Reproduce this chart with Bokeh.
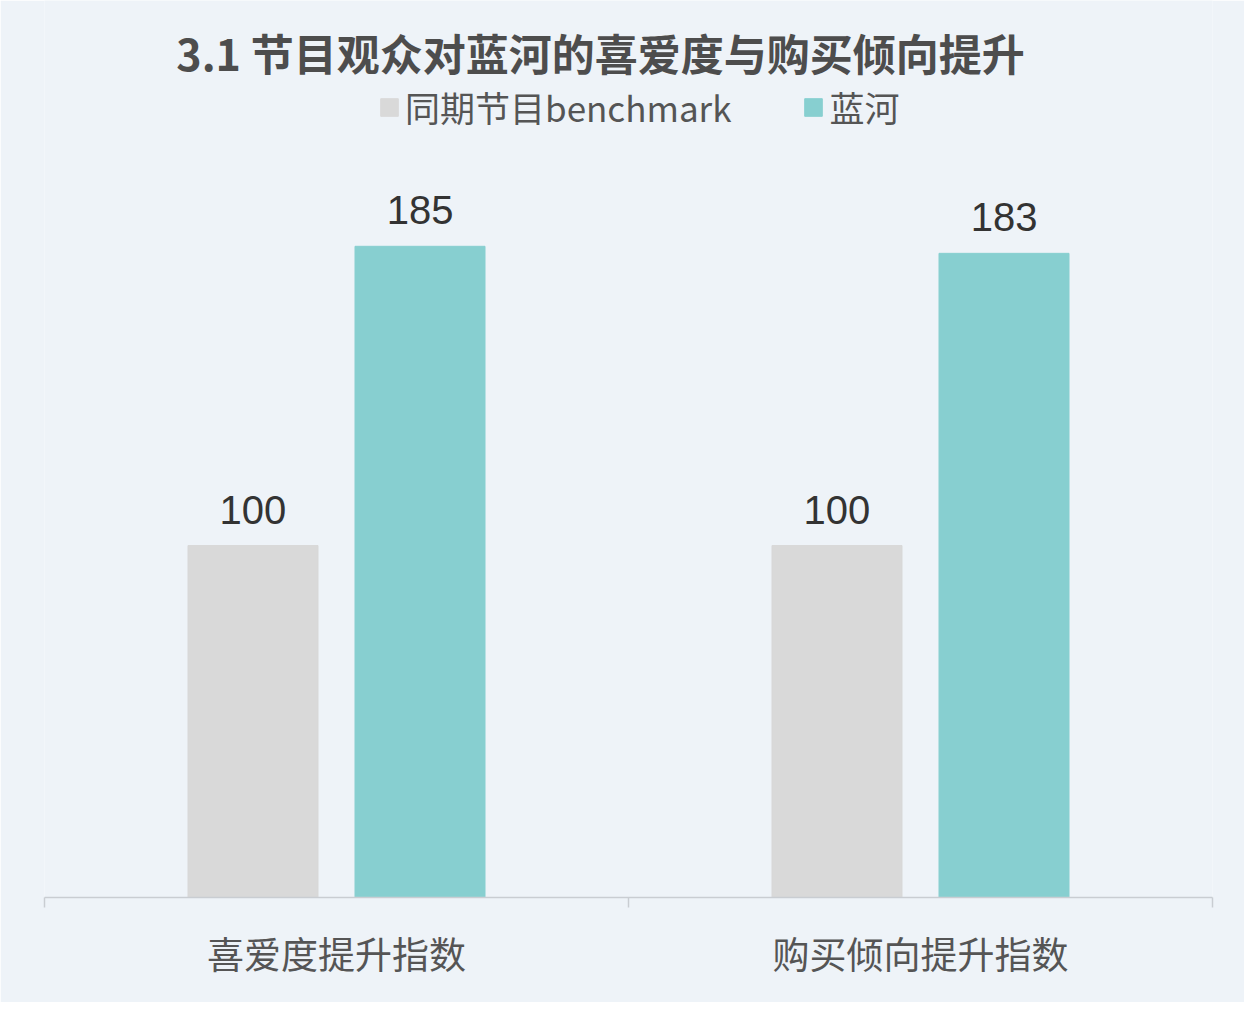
from bokeh.plotting import figure
from bokeh.models import (ColumnDataSource, LabelSet, Label, Legend, LegendItem,
                          Range1d, FixedTicker, LinearAxis)
from bokeh.core.properties import value
from bokeh.embed import file_html
from bokeh.resources import INLINE

categories = ["喜爱度提升指数", "购买倾向提升指数"]
series_names = ["同期节目benchmark", "蓝河"]
benchmark = [100, 100]
lanhe = [185, 183]
title_text = "3.1 节目观众对蓝河的喜爱度与购买倾向提升"

colors = ["#d9d9d9", "#87cfd0"]
bg = "#eef3f8"

centers = [i + 0.5 for i in range(len(categories))]
offset = 0.143
bar_w = 0.2226

src_b = ColumnDataSource(data=dict(x=[c - offset for c in centers], top=benchmark,
                                   txt=[str(v) for v in benchmark]))
src_l = ColumnDataSource(data=dict(x=[c + offset for c in centers], top=lanhe,
                                   txt=[str(v) for v in lanhe]))

p = figure(width=1244, height=1002, output_backend="svg", toolbar_location=None,
           x_range=Range1d(0, len(categories)), y_range=Range1d(0, 897 / 3.52),
           x_axis_type=None, y_axis_type=None,
           min_border_left=44, min_border_right=32, min_border_top=0,
           min_border_bottom=105)
p.background_fill_color = bg
p.border_fill_color = bg
p.outline_line_color = None
p.xgrid.visible = False
p.ygrid.visible = False

r_b = p.vbar(x="x", top="top", width=bar_w, source=src_b, color=colors[0])
r_l = p.vbar(x="x", top="top", width=bar_w, source=src_l, color=colors[1])

for s in (src_b, src_l):
    p.add_layout(LabelSet(x="x", y="top", text="txt", source=s, y_offset=22,
                          text_align="center", text_baseline="alphabetic",
                          text_font=value("Liberation Sans"), text_font_size="40px",
                          text_color="#333333"))

# x axis: labels at category centres, ticks at category boundaries
xaxis = LinearAxis(ticker=FixedTicker(ticks=centers,
                                      minor_ticks=list(range(len(categories) + 1))))
xaxis.major_label_overrides = {c: name for c, name in zip(centers, categories)}
xaxis.major_tick_out = 0
xaxis.major_tick_in = 0
xaxis.minor_tick_out = 10
xaxis.minor_tick_in = 0
xaxis.axis_line_color = "#c9cdd2"
xaxis.axis_line_width = 1.5
xaxis.minor_tick_line_color = "#c9cdd2"
xaxis.minor_tick_line_width = 1.5
xaxis.major_label_text_font = "Noto Sans CJK SC"
xaxis.major_label_text_font_size = "37px"
xaxis.major_label_text_color = "#555555"
xaxis.major_label_standoff = 18
p.add_layout(xaxis, "below")

p.add_layout(Label(x=556, y=846, x_units="screen", y_units="screen", text=title_text,
                   text_align="center", text_baseline="middle",
                   text_font="Noto Sans CJK SC", text_font_style="bold",
                   text_font_size="43px", text_color="#4d4d4d"))

legend = Legend(items=[LegendItem(label=series_names[0], renderers=[r_b]),
                       LegendItem(label=series_names[1], renderers=[r_l])],
                orientation="horizontal", location=(334, 765),
                glyph_width=22, glyph_height=22, label_standoff=5, spacing=71,
                padding=0, margin=0,
                label_text_font="Noto Sans CJK SC", label_text_font_size="35px",
                label_text_color="#555555",
                background_fill_alpha=0, border_line_alpha=0)
p.add_layout(legend, "center")

open("out.html", "w").write(file_html(p, INLINE))
